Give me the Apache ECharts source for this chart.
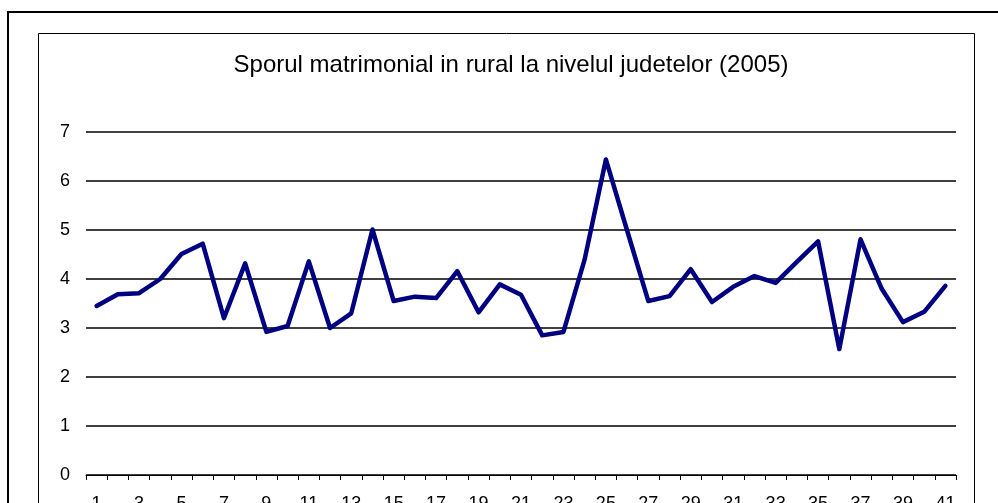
<!DOCTYPE html>
<html>
<head>
<meta charset="utf-8">
<script src="https://cdn.jsdelivr.net/npm/echarts@6/dist/echarts.min.js"></script>
<style>
  html, body { margin: 0; padding: 0; background: #fff; }
  #main { width: 998px; height: 503px; }
</style>
</head>
<body>
<div id="main"></div>
<script>
// judete 1..41
var judete = [];
for (var i = 1; i <= 41; i++) judete.push(String(i));

// sporul matrimonial (rural)
var sporRural = [
  3.45, 3.69, 3.71, 4.0, 4.51, 4.72, 3.2, 4.32, 2.92, 3.04,
  4.36, 3.0, 3.3, 5.01, 3.55, 3.64, 3.61, 4.16, 3.32, 3.89,
  3.68, 2.85, 2.92, 4.4, 6.44, 4.99, 3.55, 3.65, 4.2, 3.53,
  3.84, 4.06, 3.92, 4.35, 4.77, 2.57, 4.81, 3.8, 3.12, 3.33,
  3.86
];

var myChart = echarts.init(document.getElementById('main'));
myChart.setOption({
  backgroundColor: '#fff',
  animation: false,
  title: {
    text: 'Sporul matrimonial in rural la nivelul judetelor (2005)',
    left: 506,
    top: 48,
    textAlign: 'center',
    textStyle: {
      fontFamily: 'Liberation Sans, Arial, sans-serif',
      fontSize: 24,
      fontWeight: 'normal',
      color: '#000'
    }
  },
  // ramele (exterioara si interioara)
  graphic: [
    {
      type: 'rect',
      shape: { x: 8, y: 12, width: 1010, height: 520 },
      style: { fill: 'none', stroke: '#000', lineWidth: 2 },
      silent: true
    },
    {
      type: 'rect',
      shape: { x: 38.5, y: 33.5, width: 936, height: 500 },
      style: { fill: 'none', stroke: '#000', lineWidth: 1 },
      silent: true
    }
  ],
  grid: {
    left: 86,
    right: 42,
    top: 132,
    bottom: 28,
    outerBoundsMode: 'none'
  },
  xAxis: {
    type: 'category',
    data: judete,
    boundaryGap: true,
    axisLine: { lineStyle: { color: '#000', width: 1 } },
    axisTick: {
      show: true,
      interval: 0,
      length: 5,
      lineStyle: { color: '#000' }
    },
    axisLabel: {
      interval: 1,
      margin: 20,
      fontFamily: 'Liberation Sans, Arial, sans-serif',
      fontSize: 18,
      color: '#000'
    },
    splitLine: { show: false }
  },
  yAxis: {
    type: 'value',
    min: 0,
    max: 7,
    interval: 1,
    axisLine: { show: false },
    axisTick: { show: false },
    axisLabel: {
      margin: 16,
      fontFamily: 'Liberation Sans, Arial, sans-serif',
      fontSize: 18,
      color: '#000'
    },
    splitLine: { lineStyle: { color: '#000', width: 1.5 } }
  },
  series: [
    {
      type: 'line',
      data: sporRural,
      symbol: 'none',
      lineStyle: { color: '#000080', width: 4.5, join: 'round', cap: 'round' },
      z: 3
    }
  ]
});
</script>
</body>
</html>
